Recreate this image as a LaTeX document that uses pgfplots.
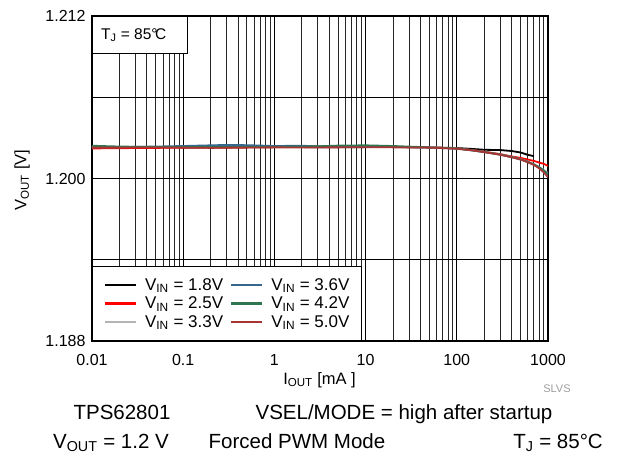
\documentclass[border=0pt]{standalone}
\usepackage{fontspec}
\setmainfont{Liberation Sans}
\usepackage{pgfplots}
\pgfplotsset{compat=1.18}
\definecolor{cA}{RGB}{0,0,0}
\definecolor{cB}{RGB}{255,0,0}
\definecolor{cC}{RGB}{180,180,180}
\definecolor{cD}{RGB}{52,104,140}
\definecolor{cE}{RGB}{46,118,80}
\definecolor{cF}{RGB}{168,52,52}
\begin{document}
\begin{tikzpicture}[x=1pt,y=1pt]
\useasboundingbox (0,0) rectangle (620,453);
\begin{axis}[
  at={(92pt,112pt)}, anchor=south west,
  scale only axis, width=456pt, height=325pt,
  xmode=log, xmin=0.01, xmax=1000, ymin=1.188, ymax=1.212,
  xtick={0.01,0.1,1,10,100,1000}, xticklabels={0.01,0.1,1,10,100,1000},
  ytick={1.188,1.194,1.2,1.206,1.212}, yticklabels={1.188,,1.200,,1.212},
  grid=both,
  major grid style={black, line width=0.9pt},
  minor grid style={black!85, line width=0.9pt},
  major tick length=0pt, minor tick length=0pt,
  axis line style={line width=2.5pt},
  /pgf/number format/assume math mode=true,
  ticklabel style={font=\fontsize{16}{18}\selectfont},
  xticklabel style={yshift=-10pt},
  yticklabel style={xshift=-3pt},
  xlabel={I\textsubscript{OUT} [mA ]},
  ylabel={V\textsubscript{OUT} [V]},
  label style={font=\fontsize{16.5}{18}\selectfont},
  xlabel style={at={(axis description cs:0.499,-0.12)}, anchor=center},
  ylabel style={at={(axis description cs:-0.1535,0.495)}, anchor=center},
  legend columns=3, transpose legend,
  legend cell align=left,
  legend style={at={(0,0)}, anchor=south west, draw=black, line width=0.8pt,
    fill=white, font=\fontsize{17}{19}\selectfont,
    inner xsep=11.5pt, inner ysep=12pt, row sep=5pt,
    nodes={inner sep=0pt},
    /tikz/every odd column/.style={column sep=8pt},
    /tikz/every even column/.style={column sep=7pt}},
  legend image code/.code={\draw[#1, line width=2.2pt] (0pt,0pt) -- (31pt,0pt);},
  every axis plot/.append style={line width=1.8pt, mark=none},
]
\addplot[cA] coordinates {(0.01,1.20228) (0.02,1.20230) (0.05,1.20232) (0.1,1.20230) (0.2,1.20228) (0.5,1.20230) (1,1.20232) (2,1.20232) (5,1.20230) (10,1.20232) (20,1.20233) (50,1.20230) (100,1.20225) (150,1.20218) (200,1.20212) (300,1.20210) (400,1.20203) (500,1.20192) (600,1.20175) (700,1.20165)};
\addlegendentry{V\textsubscript{IN} = 1.8V}
\addplot[cB] coordinates {(0.01,1.20222) (0.02,1.20224) (0.05,1.20226) (0.1,1.20228) (0.2,1.20230) (0.5,1.20230) (1,1.20232) (2,1.20233) (3,1.20236) (5,1.20232) (10,1.20232) (20,1.20233) (50,1.20230) (100,1.20222) (150,1.20210) (200,1.20198) (300,1.20180) (400,1.20163) (500,1.20152) (600,1.20140) (700,1.20130) (800,1.20118) (900,1.20108) (1000,1.20093)};
\addlegendentry{V\textsubscript{IN} = 2.5V}
\addplot[cC] coordinates {(0.01,1.20232) (0.02,1.20232) (0.05,1.20233) (0.1,1.20232) (0.2,1.20233) (0.5,1.20234) (1,1.20234) (2,1.20233) (5,1.20234) (10,1.20234) (20,1.20234) (50,1.20230) (100,1.20222) (150,1.20208) (200,1.20196) (300,1.20177) (400,1.20160) (500,1.20143) (600,1.20125) (700,1.20106) (800,1.20085) (900,1.20063) (1000,1.20040)};
\addlegendentry{V\textsubscript{IN} = 3.3V}
\addplot[cD] coordinates {(0.01,1.20230) (0.02,1.20232) (0.05,1.20236) (0.1,1.20240) (0.2,1.20245) (0.3,1.20248) (0.5,1.20246) (1,1.20240) (2,1.20242) (5,1.20232) (10,1.20232) (20,1.20233) (50,1.20228) (100,1.20220) (150,1.20207) (200,1.20195) (300,1.20176) (400,1.20158) (500,1.20141) (600,1.20122) (700,1.20103) (800,1.20082) (900,1.20058) (1000,1.20035)};
\addlegendentry{V\textsubscript{IN} = 3.6V}
\addplot[cE] coordinates {(0.01,1.20242) (0.02,1.20236) (0.05,1.20233) (0.1,1.20232) (0.2,1.20232) (0.5,1.20233) (1,1.20234) (3,1.20238) (5,1.20243) (10,1.20245) (20,1.20240) (50,1.20230) (100,1.20222) (150,1.20208) (200,1.20196) (300,1.20177) (400,1.20159) (500,1.20142) (600,1.20123) (700,1.20104) (800,1.20082) (900,1.20057) (1000,1.20030)};
\addlegendentry{V\textsubscript{IN} = 4.2V}
\addplot[cF] coordinates {(0.01,1.20228) (0.02,1.20228) (0.05,1.20229) (0.1,1.20228) (0.2,1.20227) (0.5,1.20229) (1,1.20230) (2,1.20229) (5,1.20230) (10,1.20231) (20,1.20230) (50,1.20228) (100,1.20220) (150,1.20207) (200,1.20195) (300,1.20175) (400,1.20157) (500,1.20140) (600,1.20120) (700,1.20100) (800,1.20075) (900,1.20045) (1000,1.20010)};
\addlegendentry{V\textsubscript{IN} = 5.0V}
\end{axis}
\draw[line width=0.8pt, fill=white] (92,400) rectangle (187,437);
\node[anchor=west, font=\fontsize{15.5}{17}\selectfont, inner sep=0pt] at (101,418) {T\textsubscript{J} = 85°\kern-2.5pt C};
\node[font=\fontsize{11}{13}\selectfont, text=black!38, anchor=base] at (557,61) {SLVS};
\node[font=\fontsize{20.5}{23}\selectfont, anchor=base, inner sep=0pt] at (122,34) {TPS62801};
\node[font=\fontsize{20.5}{23}\selectfont, anchor=base, inner sep=0pt] at (404,34) {VSEL/MODE = high after startup};
\node[font=\fontsize{20.5}{23}\selectfont, anchor=base, inner sep=0pt] at (111,5) {V\textsubscript{OUT} = 1.2 V};
\node[font=\fontsize{20.5}{23}\selectfont, anchor=base, inner sep=0pt] at (297,5) {Forced PWM Mode};
\node[font=\fontsize{20.5}{23}\selectfont, anchor=base east, inner sep=0pt] at (603,5) {T\textsubscript{J} = 85°C};
\end{tikzpicture}
\end{document}
